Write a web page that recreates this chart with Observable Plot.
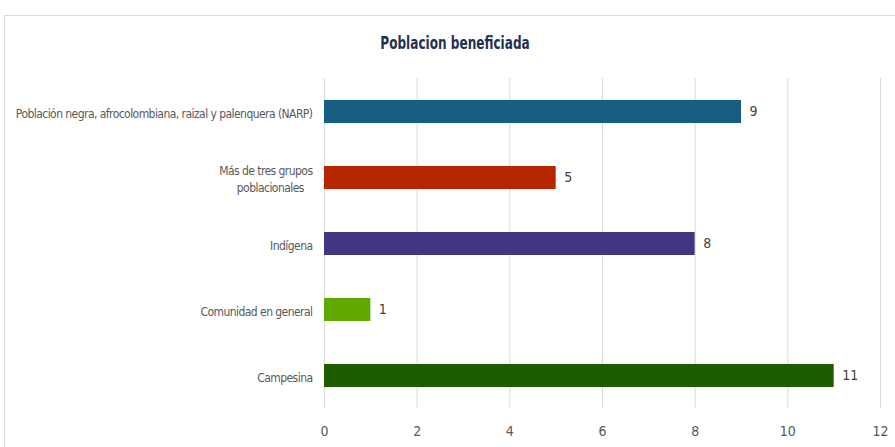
<!DOCTYPE html>
<html>
<head>
<meta charset="utf-8">
<script src="https://cdn.jsdelivr.net/npm/d3@7"></script>
<script src="https://cdn.jsdelivr.net/npm/@observablehq/plot@0.6"></script>
<style>
  html, body { margin: 0; padding: 0; background: #fff; }
  body { width: 895px; height: 447px; position: relative; overflow: hidden; }
  #frame { position: absolute; left: 4px; top: 15px; width: 900px; height: 450px; border: 1px solid #d9d9d9; box-sizing: border-box; }
  #title { position: absolute; left: 0; width: 910px; top: 33px; text-align: center; font-family: "DejaVu Sans Condensed", "DejaVu Sans", sans-serif; font-stretch: condensed; font-weight: bold; font-size: 17px; color: #1f3350; transform: scaleX(0.79); transform-origin: 455px 0; }
  #chart { position: absolute; left: 0; top: 0; }
  #chart svg text { font-stretch: condensed; }
  #chart svg g[aria-label="y-axis tick label"] text { letter-spacing: -0.55px; }
</style>
</head>
<body>
<div id="frame"></div>
<div id="title">Poblacion beneficiada</div>
<div id="chart"></div>
<script>
const categories = [
  "Población negra, afrocolombiana, raizal y palenquera (NARP)",
  "Más de tres grupos poblacionales",
  "Indígena",
  "Comunidad en general",
  "Campesina"
];
const values = [9, 5, 8, 1, 11];
const colors = ["#175e80", "#b52500", "#433683", "#5fa800", "#1d5c00"];
const xTicks = [0, 2, 4, 6, 8, 10, 12];

const data = categories.map((c, i) => ({category: c, value: values[i], color: colors[i]}));
const labelMap = {
  "Más de tres grupos poblacionales": "Más de tres grupos\npoblacionales\u00a0\u00a0\u00a0"
};
const font = "'DejaVu Sans Condensed', 'DejaVu Sans', sans-serif";

const chart = Plot.plot({
  width: 895,
  height: 447,
  marginLeft: 324,
  marginRight: 15,
  marginTop: 78,
  marginBottom: 39,
  style: {fontFamily: font, fontSize: "12px", color: "#595959", background: "transparent"},
  x: {domain: [0, 12], ticks: xTicks, label: null},
  y: {domain: categories, paddingInner: 0.652, paddingOuter: 0.326, label: null},
  marks: [
    Plot.gridX(xTicks, {stroke: "#d9d9d9", strokeOpacity: 1, strokeWidth: 1}),
    Plot.barX(data, {x: "value", y: "category", fill: "color"}),
    Plot.text(data, {x: "value", y: "category", text: d => String(d.value), dx: 8, textAnchor: "start", fill: "#404040", fontSize: 14}),
    Plot.axisX({ticks: xTicks, tickSize: 0, tickPadding: 18, fontSize: 14, fill: "#595959", label: null}),
    Plot.axisY({tickSize: 0, tickPadding: 12, fontSize: 12, lineHeight: 1.45, fill: "#595959", tickFormat: d => labelMap[d] || d, label: null})
  ]
});
document.getElementById("chart").appendChild(chart);
</script>
</body>
</html>
